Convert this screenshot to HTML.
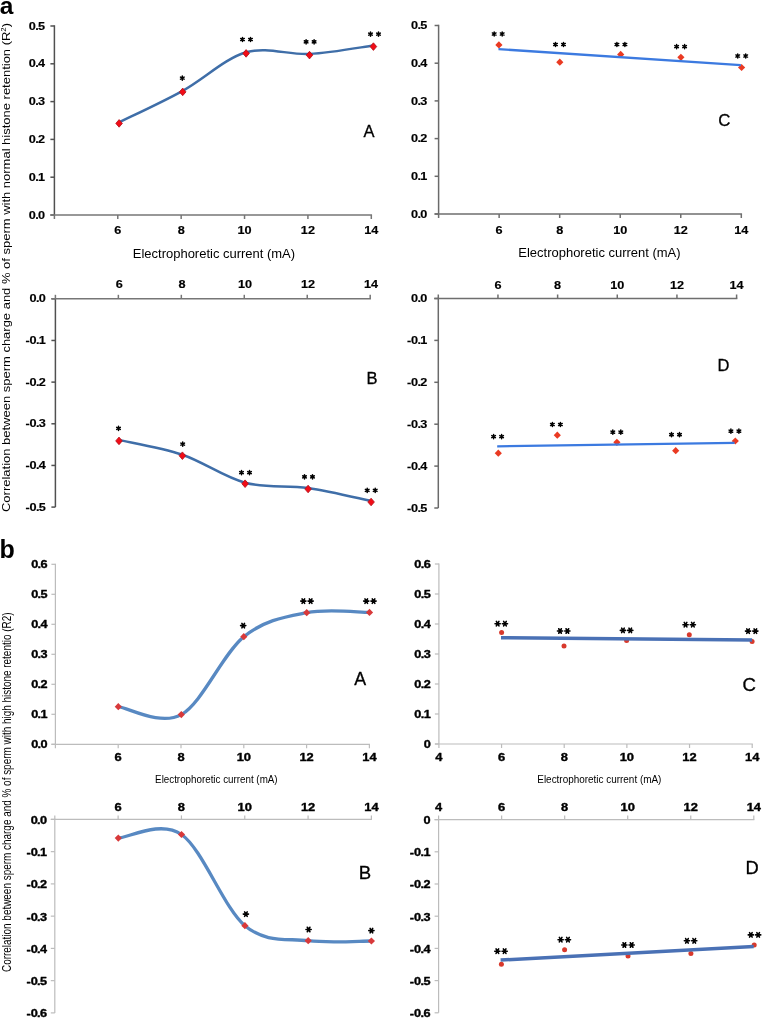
<!DOCTYPE html>
<html><head><meta charset="utf-8"><style>
html,body{margin:0;padding:0;background:#fff;}
body{width:762px;height:1018px;overflow:hidden;}
svg{display:block;font-family:"Liberation Sans", sans-serif;will-change:transform;}
</style></head><body>
<svg width="762" height="1018" viewBox="0 0 762 1018">
<rect width="762" height="1018" fill="#fff"/>
<g id="aA">
<line x1="54.4" y1="25.25" x2="54.4" y2="215" stroke="#505050" stroke-width="1.5"/>
<line x1="50.4" y1="215" x2="54.4" y2="215" stroke="#505050" stroke-width="1.5"/>
<text transform="translate(45,218.6) scale(1.22,1)" font-size="10.4" font-weight="bold" text-anchor="end" fill="#000" stroke="#000" stroke-width="0.15" stroke-linejoin="round">0<tspan dx="-0.6">.</tspan><tspan dx="-0.6">0</tspan></text>
<line x1="50.4" y1="177.2" x2="54.4" y2="177.2" stroke="#505050" stroke-width="1.5"/>
<text transform="translate(45,180.8) scale(1.22,1)" font-size="10.4" font-weight="bold" text-anchor="end" fill="#000" stroke="#000" stroke-width="0.15" stroke-linejoin="round">0<tspan dx="-0.6">.</tspan><tspan dx="-0.6">1</tspan></text>
<line x1="50.4" y1="139.4" x2="54.4" y2="139.4" stroke="#505050" stroke-width="1.5"/>
<text transform="translate(45,143) scale(1.22,1)" font-size="10.4" font-weight="bold" text-anchor="end" fill="#000" stroke="#000" stroke-width="0.15" stroke-linejoin="round">0<tspan dx="-0.6">.</tspan><tspan dx="-0.6">2</tspan></text>
<line x1="50.4" y1="101.6" x2="54.4" y2="101.6" stroke="#505050" stroke-width="1.5"/>
<text transform="translate(45,105.2) scale(1.22,1)" font-size="10.4" font-weight="bold" text-anchor="end" fill="#000" stroke="#000" stroke-width="0.15" stroke-linejoin="round">0<tspan dx="-0.6">.</tspan><tspan dx="-0.6">3</tspan></text>
<line x1="50.4" y1="63.8" x2="54.4" y2="63.8" stroke="#505050" stroke-width="1.5"/>
<text transform="translate(45,67.4) scale(1.22,1)" font-size="10.4" font-weight="bold" text-anchor="end" fill="#000" stroke="#000" stroke-width="0.15" stroke-linejoin="round">0<tspan dx="-0.6">.</tspan><tspan dx="-0.6">4</tspan></text>
<line x1="50.4" y1="26" x2="54.4" y2="26" stroke="#505050" stroke-width="1.5"/>
<text transform="translate(45,29.6) scale(1.22,1)" font-size="10.4" font-weight="bold" text-anchor="end" fill="#000" stroke="#000" stroke-width="0.15" stroke-linejoin="round">0<tspan dx="-0.6">.</tspan><tspan dx="-0.6">5</tspan></text>
<line x1="50.4" y1="215" x2="372.05" y2="215" stroke="#767676" stroke-width="1.5"/>
<line x1="54.4" y1="215" x2="54.4" y2="219" stroke="#767676" stroke-width="1.5"/>
<line x1="117.78" y1="215" x2="117.78" y2="219" stroke="#767676" stroke-width="1.5"/>
<text transform="translate(117.78,233.7) scale(1.22,1)" font-size="10.4" font-weight="bold" text-anchor="middle" fill="#000" stroke="#000" stroke-width="0.15" stroke-linejoin="round">6</text>
<line x1="181.16" y1="215" x2="181.16" y2="219" stroke="#767676" stroke-width="1.5"/>
<text transform="translate(181.16,233.7) scale(1.22,1)" font-size="10.4" font-weight="bold" text-anchor="middle" fill="#000" stroke="#000" stroke-width="0.15" stroke-linejoin="round">8</text>
<line x1="244.54" y1="215" x2="244.54" y2="219" stroke="#767676" stroke-width="1.5"/>
<text transform="translate(244.54,233.7) scale(1.22,1)" font-size="10.4" font-weight="bold" text-anchor="middle" fill="#000" stroke="#000" stroke-width="0.15" stroke-linejoin="round">10</text>
<line x1="307.92" y1="215" x2="307.92" y2="219" stroke="#767676" stroke-width="1.5"/>
<text transform="translate(307.92,233.7) scale(1.22,1)" font-size="10.4" font-weight="bold" text-anchor="middle" fill="#000" stroke="#000" stroke-width="0.15" stroke-linejoin="round">12</text>
<line x1="371.3" y1="215" x2="371.3" y2="219" stroke="#767676" stroke-width="1.5"/>
<text transform="translate(371.3,233.7) scale(1.22,1)" font-size="10.4" font-weight="bold" text-anchor="middle" fill="#000" stroke="#000" stroke-width="0.15" stroke-linejoin="round">14</text>
<path d="M119.1,122.3 C129.7,117.05 161.53,102.47 182.7,90.8 C203.87,79.13 224.97,58.43 246.1,52.3 C267.23,46.17 288.28,55.13 309.5,54 C330.72,52.87 362.75,46.92 373.4,45.5" fill="none" stroke="#3f6ea8" stroke-width="2.5" stroke-linecap="round" stroke-linejoin="round"/>
<path d="M119.1,119.6 L122.4,123.4 L119.1,127.2 L115.8,123.4 Z" fill="#f20c16" stroke="#b0101a" stroke-width="0.8"/>
<path d="M182.7,88.1 L186,91.9 L182.7,95.7 L179.4,91.9 Z" fill="#f20c16" stroke="#b0101a" stroke-width="0.8"/>
<path d="M246.1,49.6 L249.4,53.4 L246.1,57.2 L242.8,53.4 Z" fill="#f20c16" stroke="#b0101a" stroke-width="0.8"/>
<path d="M309.5,51.3 L312.8,55.1 L309.5,58.9 L306.2,55.1 Z" fill="#f20c16" stroke="#b0101a" stroke-width="0.8"/>
<path d="M373.4,42.8 L376.7,46.6 L373.4,50.4 L370.1,46.6 Z" fill="#f20c16" stroke="#b0101a" stroke-width="0.8"/>
<path d="M182.3,76 L182.3,80.2 M184.12,77.05 L180.48,79.15 M184.12,79.15 L180.48,77.05" stroke="#000" stroke-width="1.5" stroke-linecap="round"/>
<path d="M242.5,37.4 L242.5,41.6 M244.32,38.45 L240.68,40.55 M244.32,40.55 L240.68,38.45" stroke="#000" stroke-width="1.5" stroke-linecap="round"/>
<path d="M250.5,37.4 L250.5,41.6 M252.32,38.45 L248.68,40.55 M252.32,40.55 L248.68,38.45" stroke="#000" stroke-width="1.5" stroke-linecap="round"/>
<path d="M306.1,39.7 L306.1,43.9 M307.92,40.75 L304.28,42.85 M307.92,42.85 L304.28,40.75" stroke="#000" stroke-width="1.5" stroke-linecap="round"/>
<path d="M314.1,39.7 L314.1,43.9 M315.92,40.75 L312.28,42.85 M315.92,42.85 L312.28,40.75" stroke="#000" stroke-width="1.5" stroke-linecap="round"/>
<path d="M370.5,32 L370.5,36.2 M372.32,33.05 L368.68,35.15 M372.32,35.15 L368.68,33.05" stroke="#000" stroke-width="1.5" stroke-linecap="round"/>
<path d="M378.5,32 L378.5,36.2 M380.32,33.05 L376.68,35.15 M380.32,35.15 L376.68,33.05" stroke="#000" stroke-width="1.5" stroke-linecap="round"/>
<text x="369" y="136.9" font-size="16.5" text-anchor="middle" fill="#000" stroke="#000" stroke-width="0.3">A</text>
<text x="132.8" y="258.2" font-size="12" font-weight="normal" text-anchor="start" fill="#000" textLength="162.3" lengthAdjust="spacingAndGlyphs">Electrophoretic current (mA)</text>
</g>
<g id="aB">
<line x1="55.4" y1="298.05" x2="55.4" y2="507.1" stroke="#505050" stroke-width="1.5"/>
<line x1="51.4" y1="507.1" x2="55.4" y2="507.1" stroke="#505050" stroke-width="1.5"/>
<text transform="translate(45.8,510.7) scale(1.22,1)" font-size="10.4" font-weight="bold" text-anchor="end" fill="#000" stroke="#000" stroke-width="0.15" stroke-linejoin="round">-0<tspan dx="-0.6">.</tspan><tspan dx="-0.6">5</tspan></text>
<line x1="51.4" y1="465.44" x2="55.4" y2="465.44" stroke="#505050" stroke-width="1.5"/>
<text transform="translate(45.8,469.04) scale(1.22,1)" font-size="10.4" font-weight="bold" text-anchor="end" fill="#000" stroke="#000" stroke-width="0.15" stroke-linejoin="round">-0<tspan dx="-0.6">.</tspan><tspan dx="-0.6">4</tspan></text>
<line x1="51.4" y1="423.78" x2="55.4" y2="423.78" stroke="#505050" stroke-width="1.5"/>
<text transform="translate(45.8,427.38) scale(1.22,1)" font-size="10.4" font-weight="bold" text-anchor="end" fill="#000" stroke="#000" stroke-width="0.15" stroke-linejoin="round">-0<tspan dx="-0.6">.</tspan><tspan dx="-0.6">3</tspan></text>
<line x1="51.4" y1="382.12" x2="55.4" y2="382.12" stroke="#505050" stroke-width="1.5"/>
<text transform="translate(45.8,385.72) scale(1.22,1)" font-size="10.4" font-weight="bold" text-anchor="end" fill="#000" stroke="#000" stroke-width="0.15" stroke-linejoin="round">-0<tspan dx="-0.6">.</tspan><tspan dx="-0.6">2</tspan></text>
<line x1="51.4" y1="340.46" x2="55.4" y2="340.46" stroke="#505050" stroke-width="1.5"/>
<text transform="translate(45.8,344.06) scale(1.22,1)" font-size="10.4" font-weight="bold" text-anchor="end" fill="#000" stroke="#000" stroke-width="0.15" stroke-linejoin="round">-0<tspan dx="-0.6">.</tspan><tspan dx="-0.6">1</tspan></text>
<line x1="51.4" y1="298.8" x2="55.4" y2="298.8" stroke="#505050" stroke-width="1.5"/>
<text transform="translate(45.8,302.4) scale(1.22,1)" font-size="10.4" font-weight="bold" text-anchor="end" fill="#000" stroke="#000" stroke-width="0.15" stroke-linejoin="round">0<tspan dx="-0.6">.</tspan><tspan dx="-0.6">0</tspan></text>
<line x1="51.4" y1="298.8" x2="370.95" y2="298.8" stroke="#767676" stroke-width="1.5"/>
<line x1="55.4" y1="294.8" x2="55.4" y2="298.8" stroke="#767676" stroke-width="1.5"/>
<line x1="118.36" y1="294.8" x2="118.36" y2="298.8" stroke="#767676" stroke-width="1.5"/>
<text transform="translate(119.16,288.3) scale(1.22,1)" font-size="10.4" font-weight="bold" text-anchor="middle" fill="#000" stroke="#000" stroke-width="0.15" stroke-linejoin="round">6</text>
<line x1="181.32" y1="294.8" x2="181.32" y2="298.8" stroke="#767676" stroke-width="1.5"/>
<text transform="translate(182.12,288.3) scale(1.22,1)" font-size="10.4" font-weight="bold" text-anchor="middle" fill="#000" stroke="#000" stroke-width="0.15" stroke-linejoin="round">8</text>
<line x1="244.28" y1="294.8" x2="244.28" y2="298.8" stroke="#767676" stroke-width="1.5"/>
<text transform="translate(245.08,288.3) scale(1.22,1)" font-size="10.4" font-weight="bold" text-anchor="middle" fill="#000" stroke="#000" stroke-width="0.15" stroke-linejoin="round">10</text>
<line x1="307.24" y1="294.8" x2="307.24" y2="298.8" stroke="#767676" stroke-width="1.5"/>
<text transform="translate(308.04,288.3) scale(1.22,1)" font-size="10.4" font-weight="bold" text-anchor="middle" fill="#000" stroke="#000" stroke-width="0.15" stroke-linejoin="round">12</text>
<line x1="370.2" y1="294.8" x2="370.2" y2="298.8" stroke="#767676" stroke-width="1.5"/>
<text transform="translate(371,288.3) scale(1.22,1)" font-size="10.4" font-weight="bold" text-anchor="middle" fill="#000" stroke="#000" stroke-width="0.15" stroke-linejoin="round">14</text>
<path d="M119,439.9 C129.57,442.37 161.38,447.57 182.4,454.7 C203.42,461.83 224.15,477.15 245.1,482.7 C266.05,488.25 287.1,484.95 308.1,488 C329.1,491.05 360.6,498.83 371.1,501" fill="none" stroke="#3f6ea8" stroke-width="2.5" stroke-linecap="round" stroke-linejoin="round"/>
<path d="M119,437.1 L122.3,440.9 L119,444.7 L115.7,440.9 Z" fill="#f20c16" stroke="#b0101a" stroke-width="0.8"/>
<path d="M182.4,451.9 L185.7,455.7 L182.4,459.5 L179.1,455.7 Z" fill="#f20c16" stroke="#b0101a" stroke-width="0.8"/>
<path d="M245.1,479.9 L248.4,483.7 L245.1,487.5 L241.8,483.7 Z" fill="#f20c16" stroke="#b0101a" stroke-width="0.8"/>
<path d="M308.1,485.2 L311.4,489 L308.1,492.8 L304.8,489 Z" fill="#f20c16" stroke="#b0101a" stroke-width="0.8"/>
<path d="M371.1,498.2 L374.4,502 L371.1,505.8 L367.8,502 Z" fill="#f20c16" stroke="#b0101a" stroke-width="0.8"/>
<path d="M118.5,426.3 L118.5,430.5 M120.32,427.35 L116.68,429.45 M120.32,429.45 L116.68,427.35" stroke="#000" stroke-width="1.5" stroke-linecap="round"/>
<path d="M182.7,442 L182.7,446.2 M184.52,443.05 L180.88,445.15 M184.52,445.15 L180.88,443.05" stroke="#000" stroke-width="1.5" stroke-linecap="round"/>
<path d="M241.5,470.5 L241.5,474.7 M243.32,471.55 L239.68,473.65 M243.32,473.65 L239.68,471.55" stroke="#000" stroke-width="1.5" stroke-linecap="round"/>
<path d="M249.5,470.5 L249.5,474.7 M251.32,471.55 L247.68,473.65 M251.32,473.65 L247.68,471.55" stroke="#000" stroke-width="1.5" stroke-linecap="round"/>
<path d="M304.5,474.7 L304.5,478.9 M306.32,475.75 L302.68,477.85 M306.32,477.85 L302.68,475.75" stroke="#000" stroke-width="1.5" stroke-linecap="round"/>
<path d="M312.5,474.7 L312.5,478.9 M314.32,475.75 L310.68,477.85 M314.32,477.85 L310.68,475.75" stroke="#000" stroke-width="1.5" stroke-linecap="round"/>
<path d="M367.2,488.3 L367.2,492.5 M369.02,489.35 L365.38,491.45 M369.02,491.45 L365.38,489.35" stroke="#000" stroke-width="1.5" stroke-linecap="round"/>
<path d="M375.2,488.3 L375.2,492.5 M377.02,489.35 L373.38,491.45 M377.02,491.45 L373.38,489.35" stroke="#000" stroke-width="1.5" stroke-linecap="round"/>
<text x="372" y="383.9" font-size="16.5" text-anchor="middle" fill="#000" stroke="#000" stroke-width="0.3">B</text>
</g>
<g id="aC">
<line x1="438.6" y1="24.75" x2="438.6" y2="214" stroke="#6a6a6a" stroke-width="1.5"/>
<line x1="434.6" y1="214" x2="438.6" y2="214" stroke="#6a6a6a" stroke-width="1.5"/>
<text transform="translate(427.3,217.6) scale(1.22,1)" font-size="10.4" font-weight="bold" text-anchor="end" fill="#000" stroke="#000" stroke-width="0.15" stroke-linejoin="round">0<tspan dx="-0.6">.</tspan><tspan dx="-0.6">0</tspan></text>
<line x1="434.6" y1="176.3" x2="438.6" y2="176.3" stroke="#6a6a6a" stroke-width="1.5"/>
<text transform="translate(427.3,179.9) scale(1.22,1)" font-size="10.4" font-weight="bold" text-anchor="end" fill="#000" stroke="#000" stroke-width="0.15" stroke-linejoin="round">0<tspan dx="-0.6">.</tspan><tspan dx="-0.6">1</tspan></text>
<line x1="434.6" y1="138.6" x2="438.6" y2="138.6" stroke="#6a6a6a" stroke-width="1.5"/>
<text transform="translate(427.3,142.2) scale(1.22,1)" font-size="10.4" font-weight="bold" text-anchor="end" fill="#000" stroke="#000" stroke-width="0.15" stroke-linejoin="round">0<tspan dx="-0.6">.</tspan><tspan dx="-0.6">2</tspan></text>
<line x1="434.6" y1="100.9" x2="438.6" y2="100.9" stroke="#6a6a6a" stroke-width="1.5"/>
<text transform="translate(427.3,104.5) scale(1.22,1)" font-size="10.4" font-weight="bold" text-anchor="end" fill="#000" stroke="#000" stroke-width="0.15" stroke-linejoin="round">0<tspan dx="-0.6">.</tspan><tspan dx="-0.6">3</tspan></text>
<line x1="434.6" y1="63.2" x2="438.6" y2="63.2" stroke="#6a6a6a" stroke-width="1.5"/>
<text transform="translate(427.3,66.8) scale(1.22,1)" font-size="10.4" font-weight="bold" text-anchor="end" fill="#000" stroke="#000" stroke-width="0.15" stroke-linejoin="round">0<tspan dx="-0.6">.</tspan><tspan dx="-0.6">4</tspan></text>
<line x1="434.6" y1="25.5" x2="438.6" y2="25.5" stroke="#6a6a6a" stroke-width="1.5"/>
<text transform="translate(427.3,29.1) scale(1.22,1)" font-size="10.4" font-weight="bold" text-anchor="end" fill="#000" stroke="#000" stroke-width="0.15" stroke-linejoin="round">0<tspan dx="-0.6">.</tspan><tspan dx="-0.6">5</tspan></text>
<line x1="434.6" y1="214" x2="742.05" y2="214" stroke="#6e6e6e" stroke-width="1.5"/>
<line x1="438.6" y1="214" x2="438.6" y2="218" stroke="#6e6e6e" stroke-width="1.5"/>
<line x1="499.14" y1="214" x2="499.14" y2="218" stroke="#6e6e6e" stroke-width="1.5"/>
<text transform="translate(499.14,233.7) scale(1.22,1)" font-size="10.4" font-weight="bold" text-anchor="middle" fill="#000" stroke="#000" stroke-width="0.15" stroke-linejoin="round">6</text>
<line x1="559.68" y1="214" x2="559.68" y2="218" stroke="#6e6e6e" stroke-width="1.5"/>
<text transform="translate(559.68,233.7) scale(1.22,1)" font-size="10.4" font-weight="bold" text-anchor="middle" fill="#000" stroke="#000" stroke-width="0.15" stroke-linejoin="round">8</text>
<line x1="620.22" y1="214" x2="620.22" y2="218" stroke="#6e6e6e" stroke-width="1.5"/>
<text transform="translate(620.22,233.7) scale(1.22,1)" font-size="10.4" font-weight="bold" text-anchor="middle" fill="#000" stroke="#000" stroke-width="0.15" stroke-linejoin="round">10</text>
<line x1="680.76" y1="214" x2="680.76" y2="218" stroke="#6e6e6e" stroke-width="1.5"/>
<text transform="translate(680.76,233.7) scale(1.22,1)" font-size="10.4" font-weight="bold" text-anchor="middle" fill="#000" stroke="#000" stroke-width="0.15" stroke-linejoin="round">12</text>
<line x1="741.3" y1="214" x2="741.3" y2="218" stroke="#6e6e6e" stroke-width="1.5"/>
<text transform="translate(741.3,233.7) scale(1.22,1)" font-size="10.4" font-weight="bold" text-anchor="middle" fill="#000" stroke="#000" stroke-width="0.15" stroke-linejoin="round">14</text>
<path d="M498.9,41.3 L502.5,44.9 L498.9,48.5 L495.3,44.9 Z" fill="#ea3a22"/>
<path d="M559.8,58.6 L563.4,62.2 L559.8,65.8 L556.2,62.2 Z" fill="#ea3a22"/>
<path d="M620.7,50.8 L624.3,54.4 L620.7,58 L617.1,54.4 Z" fill="#ea3a22"/>
<path d="M680.9,53.7 L684.5,57.3 L680.9,60.9 L677.3,57.3 Z" fill="#ea3a22"/>
<path d="M741.6,63.9 L745.2,67.5 L741.6,71.1 L738,67.5 Z" fill="#ea3a22"/>
<line x1="498.5" y1="49.1" x2="740.8" y2="65.2" stroke="#3c7ae0" stroke-width="2.3"/>
<path d="M494.2,31.9 L494.2,36.1 M496.02,32.95 L492.38,35.05 M496.02,35.05 L492.38,32.95" stroke="#000" stroke-width="1.5" stroke-linecap="round"/>
<path d="M502.2,31.9 L502.2,36.1 M504.02,32.95 L500.38,35.05 M504.02,35.05 L500.38,32.95" stroke="#000" stroke-width="1.5" stroke-linecap="round"/>
<path d="M555.5,42.4 L555.5,46.6 M557.32,43.45 L553.68,45.55 M557.32,45.55 L553.68,43.45" stroke="#000" stroke-width="1.5" stroke-linecap="round"/>
<path d="M563.5,42.4 L563.5,46.6 M565.32,43.45 L561.68,45.55 M565.32,45.55 L561.68,43.45" stroke="#000" stroke-width="1.5" stroke-linecap="round"/>
<path d="M616.9,42.4 L616.9,46.6 M618.72,43.45 L615.08,45.55 M618.72,45.55 L615.08,43.45" stroke="#000" stroke-width="1.5" stroke-linecap="round"/>
<path d="M624.9,42.4 L624.9,46.6 M626.72,43.45 L623.08,45.55 M626.72,45.55 L623.08,43.45" stroke="#000" stroke-width="1.5" stroke-linecap="round"/>
<path d="M676.6,44.5 L676.6,48.7 M678.42,45.55 L674.78,47.65 M678.42,47.65 L674.78,45.55" stroke="#000" stroke-width="1.5" stroke-linecap="round"/>
<path d="M684.6,44.5 L684.6,48.7 M686.42,45.55 L682.78,47.65 M686.42,47.65 L682.78,45.55" stroke="#000" stroke-width="1.5" stroke-linecap="round"/>
<path d="M737.7,53.9 L737.7,58.1 M739.52,54.95 L735.88,57.05 M739.52,57.05 L735.88,54.95" stroke="#000" stroke-width="1.5" stroke-linecap="round"/>
<path d="M745.7,53.9 L745.7,58.1 M747.52,54.95 L743.88,57.05 M747.52,57.05 L743.88,54.95" stroke="#000" stroke-width="1.5" stroke-linecap="round"/>
<text x="724.2" y="125.6" font-size="16.8" text-anchor="middle" fill="#000" stroke="#000" stroke-width="0.3">C</text>
<text x="518.3" y="257" font-size="12" font-weight="normal" text-anchor="start" fill="#000" textLength="162.3" lengthAdjust="spacingAndGlyphs">Electrophoretic current (mA)</text>
</g>
<g id="aD">
<line x1="438.3" y1="297.75" x2="438.3" y2="508" stroke="#6a6a6a" stroke-width="1.5"/>
<line x1="434.3" y1="508" x2="438.3" y2="508" stroke="#6a6a6a" stroke-width="1.5"/>
<text transform="translate(427.3,511.6) scale(1.22,1)" font-size="10.4" font-weight="bold" text-anchor="end" fill="#000" stroke="#000" stroke-width="0.15" stroke-linejoin="round">-0<tspan dx="-0.6">.</tspan><tspan dx="-0.6">5</tspan></text>
<line x1="434.3" y1="466.1" x2="438.3" y2="466.1" stroke="#6a6a6a" stroke-width="1.5"/>
<text transform="translate(427.3,469.7) scale(1.22,1)" font-size="10.4" font-weight="bold" text-anchor="end" fill="#000" stroke="#000" stroke-width="0.15" stroke-linejoin="round">-0<tspan dx="-0.6">.</tspan><tspan dx="-0.6">4</tspan></text>
<line x1="434.3" y1="424.2" x2="438.3" y2="424.2" stroke="#6a6a6a" stroke-width="1.5"/>
<text transform="translate(427.3,427.8) scale(1.22,1)" font-size="10.4" font-weight="bold" text-anchor="end" fill="#000" stroke="#000" stroke-width="0.15" stroke-linejoin="round">-0<tspan dx="-0.6">.</tspan><tspan dx="-0.6">3</tspan></text>
<line x1="434.3" y1="382.3" x2="438.3" y2="382.3" stroke="#6a6a6a" stroke-width="1.5"/>
<text transform="translate(427.3,385.9) scale(1.22,1)" font-size="10.4" font-weight="bold" text-anchor="end" fill="#000" stroke="#000" stroke-width="0.15" stroke-linejoin="round">-0<tspan dx="-0.6">.</tspan><tspan dx="-0.6">2</tspan></text>
<line x1="434.3" y1="340.4" x2="438.3" y2="340.4" stroke="#6a6a6a" stroke-width="1.5"/>
<text transform="translate(427.3,344) scale(1.22,1)" font-size="10.4" font-weight="bold" text-anchor="end" fill="#000" stroke="#000" stroke-width="0.15" stroke-linejoin="round">-0<tspan dx="-0.6">.</tspan><tspan dx="-0.6">1</tspan></text>
<line x1="434.3" y1="298.5" x2="438.3" y2="298.5" stroke="#6a6a6a" stroke-width="1.5"/>
<text transform="translate(427.3,302.1) scale(1.22,1)" font-size="10.4" font-weight="bold" text-anchor="end" fill="#000" stroke="#000" stroke-width="0.15" stroke-linejoin="round">0<tspan dx="-0.6">.</tspan><tspan dx="-0.6">0</tspan></text>
<line x1="434.3" y1="298.5" x2="737.35" y2="298.5" stroke="#6e6e6e" stroke-width="1.5"/>
<line x1="438.3" y1="294.5" x2="438.3" y2="298.5" stroke="#6e6e6e" stroke-width="1.5"/>
<line x1="497.96" y1="294.5" x2="497.96" y2="298.5" stroke="#6e6e6e" stroke-width="1.5"/>
<text transform="translate(497.96,288.5) scale(1.22,1)" font-size="10.4" font-weight="bold" text-anchor="middle" fill="#000" stroke="#000" stroke-width="0.15" stroke-linejoin="round">6</text>
<line x1="557.62" y1="294.5" x2="557.62" y2="298.5" stroke="#6e6e6e" stroke-width="1.5"/>
<text transform="translate(557.62,288.5) scale(1.22,1)" font-size="10.4" font-weight="bold" text-anchor="middle" fill="#000" stroke="#000" stroke-width="0.15" stroke-linejoin="round">8</text>
<line x1="617.28" y1="294.5" x2="617.28" y2="298.5" stroke="#6e6e6e" stroke-width="1.5"/>
<text transform="translate(617.28,288.5) scale(1.22,1)" font-size="10.4" font-weight="bold" text-anchor="middle" fill="#000" stroke="#000" stroke-width="0.15" stroke-linejoin="round">10</text>
<line x1="676.94" y1="294.5" x2="676.94" y2="298.5" stroke="#6e6e6e" stroke-width="1.5"/>
<text transform="translate(676.94,288.5) scale(1.22,1)" font-size="10.4" font-weight="bold" text-anchor="middle" fill="#000" stroke="#000" stroke-width="0.15" stroke-linejoin="round">12</text>
<line x1="736.6" y1="294.5" x2="736.6" y2="298.5" stroke="#6e6e6e" stroke-width="1.5"/>
<text transform="translate(736.6,288.5) scale(1.22,1)" font-size="10.4" font-weight="bold" text-anchor="middle" fill="#000" stroke="#000" stroke-width="0.15" stroke-linejoin="round">14</text>
<path d="M498.3,449.6 L501.9,453.2 L498.3,456.8 L494.7,453.2 Z" fill="#ea3a22"/>
<path d="M557.3,431.6 L560.9,435.2 L557.3,438.8 L553.7,435.2 Z" fill="#ea3a22"/>
<path d="M616.9,438.7 L620.5,442.3 L616.9,445.9 L613.3,442.3 Z" fill="#ea3a22"/>
<path d="M675.7,447.1 L679.3,450.7 L675.7,454.3 L672.1,450.7 Z" fill="#ea3a22"/>
<path d="M735.3,437.4 L738.9,441 L735.3,444.6 L731.7,441 Z" fill="#ea3a22"/>
<line x1="497.2" y1="446.3" x2="734.5" y2="442.9" stroke="#3c7ae0" stroke-width="2.3"/>
<path d="M493.6,434.5 L493.6,438.7 M495.42,435.55 L491.78,437.65 M495.42,437.65 L491.78,435.55" stroke="#000" stroke-width="1.5" stroke-linecap="round"/>
<path d="M501.6,434.5 L501.6,438.7 M503.42,435.55 L499.78,437.65 M503.42,437.65 L499.78,435.55" stroke="#000" stroke-width="1.5" stroke-linecap="round"/>
<path d="M552.4,422.4 L552.4,426.6 M554.22,423.45 L550.58,425.55 M554.22,425.55 L550.58,423.45" stroke="#000" stroke-width="1.5" stroke-linecap="round"/>
<path d="M560.4,422.4 L560.4,426.6 M562.22,423.45 L558.58,425.55 M562.22,425.55 L558.58,423.45" stroke="#000" stroke-width="1.5" stroke-linecap="round"/>
<path d="M612.8,430.1 L612.8,434.3 M614.62,431.15 L610.98,433.25 M614.62,433.25 L610.98,431.15" stroke="#000" stroke-width="1.5" stroke-linecap="round"/>
<path d="M620.8,430.1 L620.8,434.3 M622.62,431.15 L618.98,433.25 M622.62,433.25 L618.98,431.15" stroke="#000" stroke-width="1.5" stroke-linecap="round"/>
<path d="M671.5,432.6 L671.5,436.8 M673.32,433.65 L669.68,435.75 M673.32,435.75 L669.68,433.65" stroke="#000" stroke-width="1.5" stroke-linecap="round"/>
<path d="M679.5,432.6 L679.5,436.8 M681.32,433.65 L677.68,435.75 M681.32,435.75 L677.68,433.65" stroke="#000" stroke-width="1.5" stroke-linecap="round"/>
<path d="M730.9,429.1 L730.9,433.3 M732.72,430.15 L729.08,432.25 M732.72,432.25 L729.08,430.15" stroke="#000" stroke-width="1.5" stroke-linecap="round"/>
<path d="M738.9,429.1 L738.9,433.3 M740.72,430.15 L737.08,432.25 M740.72,432.25 L737.08,430.15" stroke="#000" stroke-width="1.5" stroke-linecap="round"/>
<text x="723.5" y="370.9" font-size="16.5" text-anchor="middle" fill="#000" stroke="#000" stroke-width="0.3">D</text>
</g>
<g id="bA">
<line x1="55.4" y1="563.7" x2="55.4" y2="744.3" stroke="#bcbcbc" stroke-width="1.2"/>
<line x1="51.4" y1="744.3" x2="55.4" y2="744.3" stroke="#bcbcbc" stroke-width="1.2"/>
<text transform="translate(47.6,747.8) scale(1.22,1)" font-size="10.4" font-weight="bold" text-anchor="end" fill="#000" stroke="#000" stroke-width="0.35" stroke-linejoin="round">0<tspan dx="-0.5">.</tspan><tspan dx="-0.5">0</tspan></text>
<line x1="51.4" y1="714.3" x2="55.4" y2="714.3" stroke="#bcbcbc" stroke-width="1.2"/>
<text transform="translate(47.6,717.8) scale(1.22,1)" font-size="10.4" font-weight="bold" text-anchor="end" fill="#000" stroke="#000" stroke-width="0.35" stroke-linejoin="round">0<tspan dx="-0.5">.</tspan><tspan dx="-0.5">1</tspan></text>
<line x1="51.4" y1="684.3" x2="55.4" y2="684.3" stroke="#bcbcbc" stroke-width="1.2"/>
<text transform="translate(47.6,687.8) scale(1.22,1)" font-size="10.4" font-weight="bold" text-anchor="end" fill="#000" stroke="#000" stroke-width="0.35" stroke-linejoin="round">0<tspan dx="-0.5">.</tspan><tspan dx="-0.5">2</tspan></text>
<line x1="51.4" y1="654.3" x2="55.4" y2="654.3" stroke="#bcbcbc" stroke-width="1.2"/>
<text transform="translate(47.6,657.8) scale(1.22,1)" font-size="10.4" font-weight="bold" text-anchor="end" fill="#000" stroke="#000" stroke-width="0.35" stroke-linejoin="round">0<tspan dx="-0.5">.</tspan><tspan dx="-0.5">3</tspan></text>
<line x1="51.4" y1="624.3" x2="55.4" y2="624.3" stroke="#bcbcbc" stroke-width="1.2"/>
<text transform="translate(47.6,627.8) scale(1.22,1)" font-size="10.4" font-weight="bold" text-anchor="end" fill="#000" stroke="#000" stroke-width="0.35" stroke-linejoin="round">0<tspan dx="-0.5">.</tspan><tspan dx="-0.5">4</tspan></text>
<line x1="51.4" y1="594.3" x2="55.4" y2="594.3" stroke="#bcbcbc" stroke-width="1.2"/>
<text transform="translate(47.6,597.8) scale(1.22,1)" font-size="10.4" font-weight="bold" text-anchor="end" fill="#000" stroke="#000" stroke-width="0.35" stroke-linejoin="round">0<tspan dx="-0.5">.</tspan><tspan dx="-0.5">5</tspan></text>
<line x1="51.4" y1="564.3" x2="55.4" y2="564.3" stroke="#bcbcbc" stroke-width="1.2"/>
<text transform="translate(47.6,567.8) scale(1.22,1)" font-size="10.4" font-weight="bold" text-anchor="end" fill="#000" stroke="#000" stroke-width="0.35" stroke-linejoin="round">0<tspan dx="-0.5">.</tspan><tspan dx="-0.5">6</tspan></text>
<line x1="51.4" y1="744.3" x2="370" y2="744.3" stroke="#bcbcbc" stroke-width="1.2"/>
<line x1="55.4" y1="744.3" x2="55.4" y2="748.3" stroke="#bcbcbc" stroke-width="1.2"/>
<line x1="118.2" y1="744.3" x2="118.2" y2="748.3" stroke="#bcbcbc" stroke-width="1.2"/>
<text transform="translate(118.2,761.1) scale(1.24,1)" font-size="10.4" font-weight="bold" text-anchor="middle" fill="#000" stroke="#000" stroke-width="0.35" stroke-linejoin="round">6</text>
<line x1="181" y1="744.3" x2="181" y2="748.3" stroke="#bcbcbc" stroke-width="1.2"/>
<text transform="translate(181,761.1) scale(1.24,1)" font-size="10.4" font-weight="bold" text-anchor="middle" fill="#000" stroke="#000" stroke-width="0.35" stroke-linejoin="round">8</text>
<line x1="243.8" y1="744.3" x2="243.8" y2="748.3" stroke="#bcbcbc" stroke-width="1.2"/>
<text transform="translate(243.8,761.1) scale(1.24,1)" font-size="10.4" font-weight="bold" text-anchor="middle" fill="#000" stroke="#000" stroke-width="0.35" stroke-linejoin="round">10</text>
<line x1="306.6" y1="744.3" x2="306.6" y2="748.3" stroke="#bcbcbc" stroke-width="1.2"/>
<text transform="translate(306.6,761.1) scale(1.24,1)" font-size="10.4" font-weight="bold" text-anchor="middle" fill="#000" stroke="#000" stroke-width="0.35" stroke-linejoin="round">12</text>
<line x1="369.4" y1="744.3" x2="369.4" y2="748.3" stroke="#bcbcbc" stroke-width="1.2"/>
<text transform="translate(369.4,761.1) scale(1.24,1)" font-size="10.4" font-weight="bold" text-anchor="middle" fill="#000" stroke="#000" stroke-width="0.35" stroke-linejoin="round">14</text>
<path d="M118.3,706.7 C128.8,708.02 160.38,726.27 181.3,714.6 C202.22,702.93 222.9,653.68 243.8,636.7 C264.7,619.72 285.75,616.75 306.7,612.7 C327.65,608.65 359.03,612.45 369.5,612.4" fill="none" stroke="#5889c2" stroke-width="3.3" stroke-linecap="round" stroke-linejoin="round"/>
<path d="M118.3,703.1 L121.9,706.7 L118.3,710.3 L114.7,706.7 Z" fill="#d8393a"/>
<path d="M181.3,711 L184.9,714.6 L181.3,718.2 L177.7,714.6 Z" fill="#d8393a"/>
<path d="M243.8,633.1 L247.4,636.7 L243.8,640.3 L240.2,636.7 Z" fill="#d8393a"/>
<path d="M306.7,609.1 L310.3,612.7 L306.7,616.3 L303.1,612.7 Z" fill="#d8393a"/>
<path d="M369.5,608.8 L373.1,612.4 L369.5,616 L365.9,612.4 Z" fill="#d8393a"/>
<path d="M240.6,625.6 L245.8,625.6 M241.9,623.35 L244.5,627.85 M244.5,623.35 L241.9,627.85" stroke="#000" stroke-width="1.6" stroke-linecap="round"/>
<path d="M300.75,601.1 L305.95,601.1 M302.05,598.85 L304.65,603.35 M304.65,598.85 L302.05,603.35" stroke="#000" stroke-width="1.6" stroke-linecap="round"/>
<path d="M308.05,601.1 L313.25,601.1 M309.35,598.85 L311.95,603.35 M311.95,598.85 L309.35,603.35" stroke="#000" stroke-width="1.6" stroke-linecap="round"/>
<path d="M363.65,601.1 L368.85,601.1 M364.95,598.85 L367.55,603.35 M367.55,598.85 L364.95,603.35" stroke="#000" stroke-width="1.6" stroke-linecap="round"/>
<path d="M370.95,601.1 L376.15,601.1 M372.25,598.85 L374.85,603.35 M374.85,598.85 L372.25,603.35" stroke="#000" stroke-width="1.6" stroke-linecap="round"/>
<text x="360.3" y="684.9" font-size="17.8" text-anchor="middle" fill="#000" stroke="#000" stroke-width="0.3">A</text>
<text x="155.1" y="783.2" font-size="11.3" font-weight="normal" text-anchor="start" fill="#000" textLength="122.5" lengthAdjust="spacingAndGlyphs">Electrophoretic current (mA)</text>
</g>
<g id="bB">
<line x1="54.8" y1="818.8" x2="54.8" y2="1012.9" stroke="#bcbcbc" stroke-width="1.2"/>
<line x1="50.8" y1="1012.9" x2="54.8" y2="1012.9" stroke="#bcbcbc" stroke-width="1.2"/>
<text transform="translate(47.1,1017.3) scale(1.22,1)" font-size="10.4" font-weight="bold" text-anchor="end" fill="#000" stroke="#000" stroke-width="0.35" stroke-linejoin="round">-0<tspan dx="-0.5">.</tspan><tspan dx="-0.5">6</tspan></text>
<line x1="50.8" y1="980.65" x2="54.8" y2="980.65" stroke="#bcbcbc" stroke-width="1.2"/>
<text transform="translate(47.1,985.05) scale(1.22,1)" font-size="10.4" font-weight="bold" text-anchor="end" fill="#000" stroke="#000" stroke-width="0.35" stroke-linejoin="round">-0<tspan dx="-0.5">.</tspan><tspan dx="-0.5">5</tspan></text>
<line x1="50.8" y1="948.4" x2="54.8" y2="948.4" stroke="#bcbcbc" stroke-width="1.2"/>
<text transform="translate(47.1,952.8) scale(1.22,1)" font-size="10.4" font-weight="bold" text-anchor="end" fill="#000" stroke="#000" stroke-width="0.35" stroke-linejoin="round">-0<tspan dx="-0.5">.</tspan><tspan dx="-0.5">4</tspan></text>
<line x1="50.8" y1="916.15" x2="54.8" y2="916.15" stroke="#bcbcbc" stroke-width="1.2"/>
<text transform="translate(47.1,920.55) scale(1.22,1)" font-size="10.4" font-weight="bold" text-anchor="end" fill="#000" stroke="#000" stroke-width="0.35" stroke-linejoin="round">-0<tspan dx="-0.5">.</tspan><tspan dx="-0.5">3</tspan></text>
<line x1="50.8" y1="883.9" x2="54.8" y2="883.9" stroke="#bcbcbc" stroke-width="1.2"/>
<text transform="translate(47.1,888.3) scale(1.22,1)" font-size="10.4" font-weight="bold" text-anchor="end" fill="#000" stroke="#000" stroke-width="0.35" stroke-linejoin="round">-0<tspan dx="-0.5">.</tspan><tspan dx="-0.5">2</tspan></text>
<line x1="50.8" y1="851.65" x2="54.8" y2="851.65" stroke="#bcbcbc" stroke-width="1.2"/>
<text transform="translate(47.1,856.05) scale(1.22,1)" font-size="10.4" font-weight="bold" text-anchor="end" fill="#000" stroke="#000" stroke-width="0.35" stroke-linejoin="round">-0<tspan dx="-0.5">.</tspan><tspan dx="-0.5">1</tspan></text>
<line x1="50.8" y1="819.4" x2="54.8" y2="819.4" stroke="#bcbcbc" stroke-width="1.2"/>
<text transform="translate(47.1,823.8) scale(1.22,1)" font-size="10.4" font-weight="bold" text-anchor="end" fill="#000" stroke="#000" stroke-width="0.35" stroke-linejoin="round">0<tspan dx="-0.5">.</tspan><tspan dx="-0.5">0</tspan></text>
<line x1="50.8" y1="819.4" x2="372" y2="819.4" stroke="#bcbcbc" stroke-width="1.2"/>
<line x1="54.8" y1="815.4" x2="54.8" y2="819.4" stroke="#bcbcbc" stroke-width="1.2"/>
<line x1="118.12" y1="815.4" x2="118.12" y2="819.4" stroke="#bcbcbc" stroke-width="1.2"/>
<text transform="translate(118.12,810.8) scale(1.24,1)" font-size="10.4" font-weight="bold" text-anchor="middle" fill="#000" stroke="#000" stroke-width="0.35" stroke-linejoin="round">6</text>
<line x1="181.44" y1="815.4" x2="181.44" y2="819.4" stroke="#bcbcbc" stroke-width="1.2"/>
<text transform="translate(181.44,810.8) scale(1.24,1)" font-size="10.4" font-weight="bold" text-anchor="middle" fill="#000" stroke="#000" stroke-width="0.35" stroke-linejoin="round">8</text>
<line x1="244.76" y1="815.4" x2="244.76" y2="819.4" stroke="#bcbcbc" stroke-width="1.2"/>
<text transform="translate(244.76,810.8) scale(1.24,1)" font-size="10.4" font-weight="bold" text-anchor="middle" fill="#000" stroke="#000" stroke-width="0.35" stroke-linejoin="round">10</text>
<line x1="308.08" y1="815.4" x2="308.08" y2="819.4" stroke="#bcbcbc" stroke-width="1.2"/>
<text transform="translate(308.08,810.8) scale(1.24,1)" font-size="10.4" font-weight="bold" text-anchor="middle" fill="#000" stroke="#000" stroke-width="0.35" stroke-linejoin="round">12</text>
<line x1="371.4" y1="815.4" x2="371.4" y2="819.4" stroke="#bcbcbc" stroke-width="1.2"/>
<text transform="translate(371.4,810.8) scale(1.24,1)" font-size="10.4" font-weight="bold" text-anchor="middle" fill="#000" stroke="#000" stroke-width="0.35" stroke-linejoin="round">14</text>
<path d="M118.3,838.1 C128.83,837.5 160.4,819.9 181.5,834.5 C202.6,849.1 223.78,908 244.9,925.7 C266.02,943.4 287.12,938.15 308.2,940.7 C329.28,943.25 360.87,940.95 371.4,941" fill="none" stroke="#5889c2" stroke-width="3.3" stroke-linecap="round" stroke-linejoin="round"/>
<path d="M118.3,834.5 L121.9,838.1 L118.3,841.7 L114.7,838.1 Z" fill="#d8393a"/>
<path d="M181.5,830.9 L185.1,834.5 L181.5,838.1 L177.9,834.5 Z" fill="#d8393a"/>
<path d="M244.9,922.1 L248.5,925.7 L244.9,929.3 L241.3,925.7 Z" fill="#d8393a"/>
<path d="M308.2,937.1 L311.8,940.7 L308.2,944.3 L304.6,940.7 Z" fill="#d8393a"/>
<path d="M371.4,937.4 L375,941 L371.4,944.6 L367.8,941 Z" fill="#d8393a"/>
<path d="M243.3,914.1 L248.5,914.1 M244.6,911.85 L247.2,916.35 M247.2,911.85 L244.6,916.35" stroke="#000" stroke-width="1.6" stroke-linecap="round"/>
<path d="M306,929.5 L311.2,929.5 M307.3,927.25 L309.9,931.75 M309.9,927.25 L307.3,931.75" stroke="#000" stroke-width="1.6" stroke-linecap="round"/>
<path d="M368.8,930.6 L374,930.6 M370.1,928.35 L372.7,932.85 M372.7,928.35 L370.1,932.85" stroke="#000" stroke-width="1.6" stroke-linecap="round"/>
<text x="364.9" y="878.6" font-size="18.6" text-anchor="middle" fill="#000" stroke="#000" stroke-width="0.3">B</text>
</g>
<g id="bC">
<line x1="438.9" y1="563.4" x2="438.9" y2="744" stroke="#bcbcbc" stroke-width="1.2"/>
<line x1="434.9" y1="744" x2="438.9" y2="744" stroke="#bcbcbc" stroke-width="1.2"/>
<text transform="translate(430.7,747.5) scale(1.22,1)" font-size="10.4" font-weight="bold" text-anchor="end" fill="#000" stroke="#000" stroke-width="0.35" stroke-linejoin="round">0</text>
<line x1="434.9" y1="714" x2="438.9" y2="714" stroke="#bcbcbc" stroke-width="1.2"/>
<text transform="translate(430.7,717.5) scale(1.22,1)" font-size="10.4" font-weight="bold" text-anchor="end" fill="#000" stroke="#000" stroke-width="0.35" stroke-linejoin="round">0<tspan dx="-0.5">.</tspan><tspan dx="-0.5">1</tspan></text>
<line x1="434.9" y1="684" x2="438.9" y2="684" stroke="#bcbcbc" stroke-width="1.2"/>
<text transform="translate(430.7,687.5) scale(1.22,1)" font-size="10.4" font-weight="bold" text-anchor="end" fill="#000" stroke="#000" stroke-width="0.35" stroke-linejoin="round">0<tspan dx="-0.5">.</tspan><tspan dx="-0.5">2</tspan></text>
<line x1="434.9" y1="654" x2="438.9" y2="654" stroke="#bcbcbc" stroke-width="1.2"/>
<text transform="translate(430.7,657.5) scale(1.22,1)" font-size="10.4" font-weight="bold" text-anchor="end" fill="#000" stroke="#000" stroke-width="0.35" stroke-linejoin="round">0<tspan dx="-0.5">.</tspan><tspan dx="-0.5">3</tspan></text>
<line x1="434.9" y1="624" x2="438.9" y2="624" stroke="#bcbcbc" stroke-width="1.2"/>
<text transform="translate(430.7,627.5) scale(1.22,1)" font-size="10.4" font-weight="bold" text-anchor="end" fill="#000" stroke="#000" stroke-width="0.35" stroke-linejoin="round">0<tspan dx="-0.5">.</tspan><tspan dx="-0.5">4</tspan></text>
<line x1="434.9" y1="594" x2="438.9" y2="594" stroke="#bcbcbc" stroke-width="1.2"/>
<text transform="translate(430.7,597.5) scale(1.22,1)" font-size="10.4" font-weight="bold" text-anchor="end" fill="#000" stroke="#000" stroke-width="0.35" stroke-linejoin="round">0<tspan dx="-0.5">.</tspan><tspan dx="-0.5">5</tspan></text>
<line x1="434.9" y1="564" x2="438.9" y2="564" stroke="#bcbcbc" stroke-width="1.2"/>
<text transform="translate(430.7,567.5) scale(1.22,1)" font-size="10.4" font-weight="bold" text-anchor="end" fill="#000" stroke="#000" stroke-width="0.35" stroke-linejoin="round">0<tspan dx="-0.5">.</tspan><tspan dx="-0.5">6</tspan></text>
<line x1="434.9" y1="744" x2="752.8" y2="744" stroke="#bcbcbc" stroke-width="1.2"/>
<line x1="438.9" y1="744" x2="438.9" y2="748" stroke="#bcbcbc" stroke-width="1.2"/>
<text transform="translate(438.9,761.2) scale(1.24,1)" font-size="10.4" font-weight="bold" text-anchor="middle" fill="#000" stroke="#000" stroke-width="0.35" stroke-linejoin="round">4</text>
<line x1="501.56" y1="744" x2="501.56" y2="748" stroke="#bcbcbc" stroke-width="1.2"/>
<text transform="translate(501.56,761.2) scale(1.24,1)" font-size="10.4" font-weight="bold" text-anchor="middle" fill="#000" stroke="#000" stroke-width="0.35" stroke-linejoin="round">6</text>
<line x1="564.22" y1="744" x2="564.22" y2="748" stroke="#bcbcbc" stroke-width="1.2"/>
<text transform="translate(564.22,761.2) scale(1.24,1)" font-size="10.4" font-weight="bold" text-anchor="middle" fill="#000" stroke="#000" stroke-width="0.35" stroke-linejoin="round">8</text>
<line x1="626.88" y1="744" x2="626.88" y2="748" stroke="#bcbcbc" stroke-width="1.2"/>
<text transform="translate(626.88,761.2) scale(1.24,1)" font-size="10.4" font-weight="bold" text-anchor="middle" fill="#000" stroke="#000" stroke-width="0.35" stroke-linejoin="round">10</text>
<line x1="689.54" y1="744" x2="689.54" y2="748" stroke="#bcbcbc" stroke-width="1.2"/>
<text transform="translate(689.54,761.2) scale(1.24,1)" font-size="10.4" font-weight="bold" text-anchor="middle" fill="#000" stroke="#000" stroke-width="0.35" stroke-linejoin="round">12</text>
<line x1="752.2" y1="744" x2="752.2" y2="748" stroke="#bcbcbc" stroke-width="1.2"/>
<text transform="translate(752.2,761.2) scale(1.24,1)" font-size="10.4" font-weight="bold" text-anchor="middle" fill="#000" stroke="#000" stroke-width="0.35" stroke-linejoin="round">14</text>
<circle cx="501.6" cy="632.5" r="2.5" fill="#d8392c"/>
<circle cx="564" cy="646.1" r="2.5" fill="#d8392c"/>
<circle cx="626.6" cy="640.4" r="2.5" fill="#d8392c"/>
<circle cx="689.3" cy="634.8" r="2.5" fill="#d8392c"/>
<circle cx="752.1" cy="641.5" r="2.5" fill="#d8392c"/>
<line x1="501" y1="637.7" x2="752.1" y2="640" stroke="#4a71b5" stroke-width="3.5"/>
<path d="M495.05,623.7 L500.25,623.7 M496.35,621.45 L498.95,625.95 M498.95,621.45 L496.35,625.95" stroke="#000" stroke-width="1.6" stroke-linecap="round"/>
<path d="M502.35,623.7 L507.55,623.7 M503.65,621.45 L506.25,625.95 M506.25,621.45 L503.65,625.95" stroke="#000" stroke-width="1.6" stroke-linecap="round"/>
<path d="M557.45,631 L562.65,631 M558.75,628.75 L561.35,633.25 M561.35,628.75 L558.75,633.25" stroke="#000" stroke-width="1.6" stroke-linecap="round"/>
<path d="M564.75,631 L569.95,631 M566.05,628.75 L568.65,633.25 M568.65,628.75 L566.05,633.25" stroke="#000" stroke-width="1.6" stroke-linecap="round"/>
<path d="M620.35,630.4 L625.55,630.4 M621.65,628.15 L624.25,632.65 M624.25,628.15 L621.65,632.65" stroke="#000" stroke-width="1.6" stroke-linecap="round"/>
<path d="M627.65,630.4 L632.85,630.4 M628.95,628.15 L631.55,632.65 M631.55,628.15 L628.95,632.65" stroke="#000" stroke-width="1.6" stroke-linecap="round"/>
<path d="M682.95,624.7 L688.15,624.7 M684.25,622.45 L686.85,626.95 M686.85,622.45 L684.25,626.95" stroke="#000" stroke-width="1.6" stroke-linecap="round"/>
<path d="M690.25,624.7 L695.45,624.7 M691.55,622.45 L694.15,626.95 M694.15,622.45 L691.55,626.95" stroke="#000" stroke-width="1.6" stroke-linecap="round"/>
<path d="M745.45,631.1 L750.65,631.1 M746.75,628.85 L749.35,633.35 M749.35,628.85 L746.75,633.35" stroke="#000" stroke-width="1.6" stroke-linecap="round"/>
<path d="M752.75,631.1 L757.95,631.1 M754.05,628.85 L756.65,633.35 M756.65,628.85 L754.05,633.35" stroke="#000" stroke-width="1.6" stroke-linecap="round"/>
<text x="749.2" y="690.6" font-size="18.6" text-anchor="middle" fill="#000" stroke="#000" stroke-width="0.3">C</text>
<text x="537.3" y="783.1" font-size="11.3" font-weight="normal" text-anchor="start" fill="#000" textLength="124.1" lengthAdjust="spacingAndGlyphs">Electrophoretic current (mA)</text>
</g>
<g id="bD">
<line x1="438.6" y1="819" x2="438.6" y2="1012.8" stroke="#bcbcbc" stroke-width="1.2"/>
<line x1="434.6" y1="1012.8" x2="438.6" y2="1012.8" stroke="#bcbcbc" stroke-width="1.2"/>
<text transform="translate(430.5,1017.2) scale(1.22,1)" font-size="10.4" font-weight="bold" text-anchor="end" fill="#000" stroke="#000" stroke-width="0.35" stroke-linejoin="round">-0<tspan dx="-0.5">.</tspan><tspan dx="-0.5">6</tspan></text>
<line x1="434.6" y1="980.6" x2="438.6" y2="980.6" stroke="#bcbcbc" stroke-width="1.2"/>
<text transform="translate(430.5,985) scale(1.22,1)" font-size="10.4" font-weight="bold" text-anchor="end" fill="#000" stroke="#000" stroke-width="0.35" stroke-linejoin="round">-0<tspan dx="-0.5">.</tspan><tspan dx="-0.5">5</tspan></text>
<line x1="434.6" y1="948.4" x2="438.6" y2="948.4" stroke="#bcbcbc" stroke-width="1.2"/>
<text transform="translate(430.5,952.8) scale(1.22,1)" font-size="10.4" font-weight="bold" text-anchor="end" fill="#000" stroke="#000" stroke-width="0.35" stroke-linejoin="round">-0<tspan dx="-0.5">.</tspan><tspan dx="-0.5">4</tspan></text>
<line x1="434.6" y1="916.2" x2="438.6" y2="916.2" stroke="#bcbcbc" stroke-width="1.2"/>
<text transform="translate(430.5,920.6) scale(1.22,1)" font-size="10.4" font-weight="bold" text-anchor="end" fill="#000" stroke="#000" stroke-width="0.35" stroke-linejoin="round">-0<tspan dx="-0.5">.</tspan><tspan dx="-0.5">3</tspan></text>
<line x1="434.6" y1="884" x2="438.6" y2="884" stroke="#bcbcbc" stroke-width="1.2"/>
<text transform="translate(430.5,888.4) scale(1.22,1)" font-size="10.4" font-weight="bold" text-anchor="end" fill="#000" stroke="#000" stroke-width="0.35" stroke-linejoin="round">-0<tspan dx="-0.5">.</tspan><tspan dx="-0.5">2</tspan></text>
<line x1="434.6" y1="851.8" x2="438.6" y2="851.8" stroke="#bcbcbc" stroke-width="1.2"/>
<text transform="translate(430.5,856.2) scale(1.22,1)" font-size="10.4" font-weight="bold" text-anchor="end" fill="#000" stroke="#000" stroke-width="0.35" stroke-linejoin="round">-0<tspan dx="-0.5">.</tspan><tspan dx="-0.5">1</tspan></text>
<line x1="434.6" y1="819.6" x2="438.6" y2="819.6" stroke="#bcbcbc" stroke-width="1.2"/>
<text transform="translate(430.5,824) scale(1.22,1)" font-size="10.4" font-weight="bold" text-anchor="end" fill="#000" stroke="#000" stroke-width="0.35" stroke-linejoin="round">0</text>
<line x1="434.6" y1="819.6" x2="754.4" y2="819.6" stroke="#bcbcbc" stroke-width="1.2"/>
<line x1="438.6" y1="815.6" x2="438.6" y2="819.6" stroke="#bcbcbc" stroke-width="1.2"/>
<text transform="translate(438.6,811) scale(1.24,1)" font-size="10.4" font-weight="bold" text-anchor="middle" fill="#000" stroke="#000" stroke-width="0.35" stroke-linejoin="round">4</text>
<line x1="501.64" y1="815.6" x2="501.64" y2="819.6" stroke="#bcbcbc" stroke-width="1.2"/>
<text transform="translate(501.64,811) scale(1.24,1)" font-size="10.4" font-weight="bold" text-anchor="middle" fill="#000" stroke="#000" stroke-width="0.35" stroke-linejoin="round">6</text>
<line x1="564.68" y1="815.6" x2="564.68" y2="819.6" stroke="#bcbcbc" stroke-width="1.2"/>
<text transform="translate(564.68,811) scale(1.24,1)" font-size="10.4" font-weight="bold" text-anchor="middle" fill="#000" stroke="#000" stroke-width="0.35" stroke-linejoin="round">8</text>
<line x1="627.72" y1="815.6" x2="627.72" y2="819.6" stroke="#bcbcbc" stroke-width="1.2"/>
<text transform="translate(627.72,811) scale(1.24,1)" font-size="10.4" font-weight="bold" text-anchor="middle" fill="#000" stroke="#000" stroke-width="0.35" stroke-linejoin="round">10</text>
<line x1="690.76" y1="815.6" x2="690.76" y2="819.6" stroke="#bcbcbc" stroke-width="1.2"/>
<text transform="translate(690.76,811) scale(1.24,1)" font-size="10.4" font-weight="bold" text-anchor="middle" fill="#000" stroke="#000" stroke-width="0.35" stroke-linejoin="round">12</text>
<line x1="753.8" y1="815.6" x2="753.8" y2="819.6" stroke="#bcbcbc" stroke-width="1.2"/>
<text transform="translate(753.8,811) scale(1.24,1)" font-size="10.4" font-weight="bold" text-anchor="middle" fill="#000" stroke="#000" stroke-width="0.35" stroke-linejoin="round">14</text>
<circle cx="501.4" cy="964.3" r="2.5" fill="#d8392c"/>
<circle cx="564.6" cy="949.8" r="2.5" fill="#d8392c"/>
<circle cx="628" cy="955.9" r="2.5" fill="#d8392c"/>
<circle cx="690.9" cy="953.6" r="2.5" fill="#d8392c"/>
<circle cx="754.2" cy="945.1" r="2.5" fill="#d8392c"/>
<line x1="500.6" y1="960.1" x2="753.7" y2="946.4" stroke="#4a71b5" stroke-width="3.5"/>
<path d="M494.75,951.2 L499.95,951.2 M496.05,948.95 L498.65,953.45 M498.65,948.95 L496.05,953.45" stroke="#000" stroke-width="1.6" stroke-linecap="round"/>
<path d="M502.05,951.2 L507.25,951.2 M503.35,948.95 L505.95,953.45 M505.95,948.95 L503.35,953.45" stroke="#000" stroke-width="1.6" stroke-linecap="round"/>
<path d="M558.05,939.7 L563.25,939.7 M559.35,937.45 L561.95,941.95 M561.95,937.45 L559.35,941.95" stroke="#000" stroke-width="1.6" stroke-linecap="round"/>
<path d="M565.35,939.7 L570.55,939.7 M566.65,937.45 L569.25,941.95 M569.25,937.45 L566.65,941.95" stroke="#000" stroke-width="1.6" stroke-linecap="round"/>
<path d="M621.75,945 L626.95,945 M623.05,942.75 L625.65,947.25 M625.65,942.75 L623.05,947.25" stroke="#000" stroke-width="1.6" stroke-linecap="round"/>
<path d="M629.05,945 L634.25,945 M630.35,942.75 L632.95,947.25 M632.95,942.75 L630.35,947.25" stroke="#000" stroke-width="1.6" stroke-linecap="round"/>
<path d="M684.35,940.8 L689.55,940.8 M685.65,938.55 L688.25,943.05 M688.25,938.55 L685.65,943.05" stroke="#000" stroke-width="1.6" stroke-linecap="round"/>
<path d="M691.65,940.8 L696.85,940.8 M692.95,938.55 L695.55,943.05 M695.55,938.55 L692.95,943.05" stroke="#000" stroke-width="1.6" stroke-linecap="round"/>
<path d="M748.25,934.9 L753.45,934.9 M749.55,932.65 L752.15,937.15 M752.15,932.65 L749.55,937.15" stroke="#000" stroke-width="1.6" stroke-linecap="round"/>
<path d="M755.55,934.9 L760.75,934.9 M756.85,932.65 L759.45,937.15 M759.45,932.65 L756.85,937.15" stroke="#000" stroke-width="1.6" stroke-linecap="round"/>
<text x="752" y="873.7" font-size="18.3" text-anchor="middle" fill="#000" stroke="#000" stroke-width="0.3">D</text>
</g>
<text x="-0.2" y="13.9" font-size="24.5" font-weight="bold" text-anchor="start" fill="#000">a</text>
<text x="-0.6" y="557.9" font-size="25" font-weight="bold" text-anchor="start" fill="#000">b</text>
<text transform="translate(10.2,512) rotate(-90)" font-size="11.8" textLength="489" lengthAdjust="spacingAndGlyphs" fill="#000">Correlation between sperm charge and % of sperm with normal histone retention (R<tspan font-size="7" dy="-4">2</tspan><tspan dy="4">)</tspan></text>
<text transform="translate(10.8,972) rotate(-90)" font-size="12.5" textLength="359.5" lengthAdjust="spacingAndGlyphs" fill="#000">Correlation between sperm charge and % of sperm with high histone retentio (R2)</text>
</svg>
</body></html>
